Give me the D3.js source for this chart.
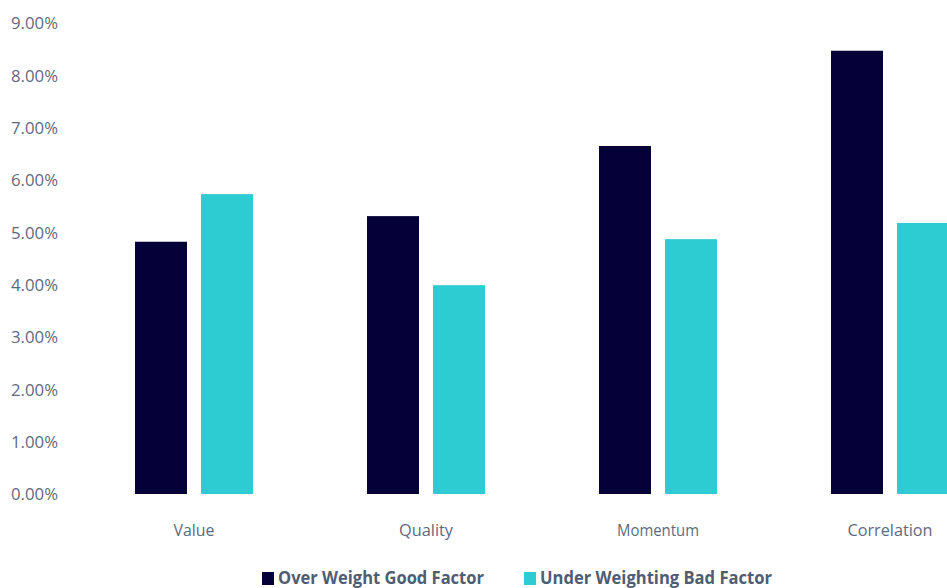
<!DOCTYPE html>
<html><head><meta charset="utf-8">
<script src="https://cdn.jsdelivr.net/npm/d3@7/dist/d3.min.js"></script>
<style>body{margin:0;background:#fff;overflow:hidden}svg{display:block}</style>
</head><body>
<svg id="c" width="947" height="588"></svg>
<script>
const categories = ["Value", "Quality", "Momentum", "Correlation"];
const seriesNames = ["Over Weight Good Factor", "Under Weighting Bad Factor"];
const overWeight = [4.82, 5.31, 6.65, 8.47];
const underWeight = [5.73, 3.99, 4.87, 5.18];
const yTicks = [0, 1, 2, 3, 4, 5, 6, 7, 8, 9];
const colors = ["#050038", "#2dcbd2"];

const svg = d3.select("#c");
const font = "'Source Sans Pro','Open Sans','Lato',sans-serif";
const textColor = "#5d6b80";

const x = d3.scaleBand().domain(categories).range([78, 1006]).paddingInner(0).paddingOuter(0);
const xs = d3.scaleBand().domain(seriesNames).range([57, 175]).paddingInner(14/66);
const y = d3.scaleLinear().domain([0, 9]).range([494, 23]);

const data = categories.map((c, i) => ({c, vals: [overWeight[i], underWeight[i]]}));

const g = svg.append("g");
g.selectAll("g.cat").data(data).join("g")
  .attr("transform", d => `translate(${x(d.c)},0)`)
  .selectAll("rect").data(d => d.vals.map((v, j) => ({v, s: seriesNames[j], j})))
  .join("rect")
  .attr("x", d => xs(d.s))
  .attr("width", xs.bandwidth())
  .attr("y", d => y(d.v))
  .attr("height", d => y(0) - y(d.v))
  .attr("fill", d => colors[d.j]);

// y axis
const yAxis = d3.axisLeft(y).tickValues(yTicks).tickFormat(d => d3.format(".2f")(d) + "%").tickSize(0).tickPadding(0);
const ya = svg.append("g").attr("transform", "translate(58,0)").call(yAxis);
ya.select(".domain").remove();
ya.selectAll("text").attr("fill", textColor).style("font-family", font).style("font-size", "16px")
  .attr("dy", "0.36em")
  .attr("textLength", 47).attr("lengthAdjust", "spacingAndGlyphs");

// x axis
const xLabelWidths = {"Value": 41, "Quality": 54, "Momentum": 82, "Correlation": 85};
const xAxis = d3.axisBottom(x).tickSize(0).tickPadding(0);
const xa = svg.append("g").attr("transform", "translate(0,536)").call(xAxis);
xa.select(".domain").remove();
xa.selectAll("text").attr("fill", textColor).style("font-family", font).style("font-size", "17px")
  .attr("dy", "0")
  .attr("textLength", d => xLabelWidths[d]).attr("lengthAdjust", "spacingAndGlyphs");

// legend
const legendX = [262, 524];
const lg = svg.append("g");
seriesNames.forEach((s, i) => {
  lg.append("rect").attr("x", legendX[i]).attr("y", 572).attr("width", 12).attr("height", 13).attr("fill", colors[i]);
  lg.append("text").attr("x", legendX[i] + 16).attr("y", 584).text(s)
    .attr("fill", "#4e5d73").style("font-family", font).style("font-size", "17px").style("font-weight", "bold")
    .attr("textLength", i === 0 ? 206 : 232).attr("lengthAdjust", "spacingAndGlyphs");
});
</script>
</body></html>
